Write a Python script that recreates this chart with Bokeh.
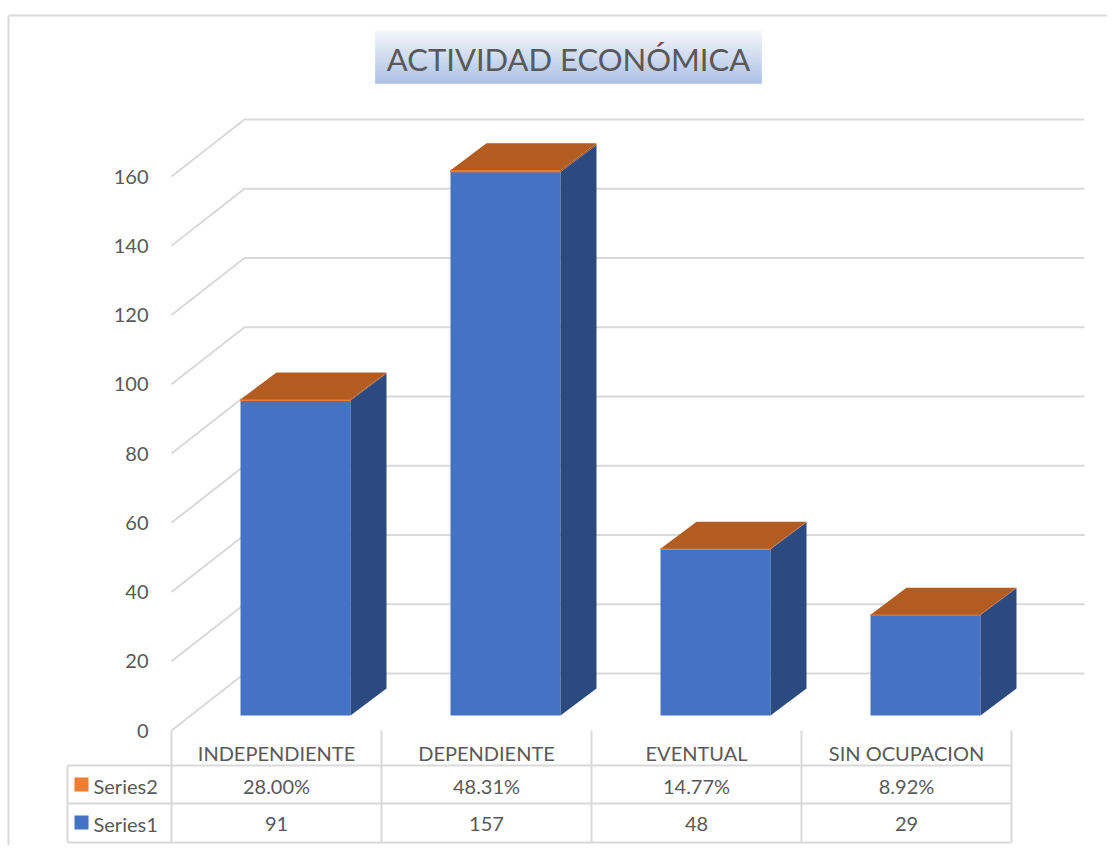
from bokeh.plotting import figure
from bokeh.models import Range1d
from bokeh.core.properties import value
from bokeh.embed import file_html
from bokeh.resources import INLINE

# ---------------- data ----------------
categories = ["INDEPENDIENTE", "DEPENDIENTE", "EVENTUAL", "SIN OCUPACION"]
series1 = [91, 157, 48, 29]
series2 = [0.2800, 0.4831, 0.1477, 0.0892]
series2_labels = ["28.00%", "48.31%", "14.77%", "8.92%"]
series_names = ["Series1", "Series2"]
y_ticks = [0, 20, 40, 60, 80, 100, 120, 140, 160]
title_text = "ACTIVIDAD ECONÓMICA"

# ---------------- geometry ----------------
W, H = 1107, 845
PX_X = 210.0      # px per category
PX_Y = 3.4625     # px per value unit
ORIGIN_X = 276.0  # canvas px of category 0 centre (front plane)
ORIGIN_Y = 730.0  # canvas px from top of value 0 (front plane)

x_start = -ORIGIN_X / PX_X
x_end = x_start + W / PX_X
y_end = ORIGIN_Y / PX_Y
y_start = y_end - H / PX_Y


def dx(px):
    return px / PX_X


def dy(px):
    return px / PX_Y


def sx(screen_x):
    return (screen_x - ORIGIN_X) / PX_X


def sy(screen_y):
    return (ORIGIN_Y - screen_y) / PX_Y


WALL_DX, WALL_DY = 73, 57
BAR_FRONT_DX, BAR_FRONT_DY = 19, 15
BAR_DEPTH_DX, BAR_DEPTH_DY = 36, 27
BAR_HALF = 55

TEXT_COLOR = "#595959"
GRID_COLOR = "#d9d9d9"
FONT = "Lato"
FRONT = "#4472c4"
SIDE = "#2b4a80"
TOP = "#b35c22"
ORANGE = "#ed7d31"
SIDE2 = "#9c4f1c"

p = figure(width=W, height=H, x_range=Range1d(x_start, x_end),
           y_range=Range1d(y_start, y_end), output_backend="svg",
           toolbar_location=None, min_border=0,
           x_axis_location=None, y_axis_location=None)
p.grid.visible = False
p.outline_line_color = None
p.background_fill_color = "white"
p.border_fill_color = "white"

n = len(categories)
left_edge = -0.5
right_edge = n - 0.5

# chart border (left + top)
p.line(x=[sx(8), sx(8)], y=[sy(15), y_start], line_color=GRID_COLOR, line_width=2)
p.line(x=[sx(8), x_end], y=[sy(15), sy(15)], line_color=GRID_COLOR, line_width=2)

# gridlines (floor diagonal + back wall)
gx, gy = [], []
for t in y_ticks:
    gx.append([left_edge, left_edge + dx(WALL_DX), right_edge + dx(WALL_DX)])
    gy.append([t, t + dy(WALL_DY), t + dy(WALL_DY)])
p.multi_line(xs=gx, ys=gy, line_color=GRID_COLOR, line_width=2)

# y axis labels
p.text(x=[left_edge] * len(y_ticks), y=y_ticks, text=[str(t) for t in y_ticks],
       x_offset=-23, text_align="right", text_baseline="middle",
       text_font=value(FONT), text_font_size="20px", text_color=TEXT_COLOR)

# bars
for i in range(n):
    cx = i + dx(BAR_FRONT_DX)
    x0 = cx - dx(BAR_HALF)
    x1 = cx + dx(BAR_HALF)
    y0 = dy(BAR_FRONT_DY)
    ddx = dx(BAR_DEPTH_DX)
    ddy = dy(BAR_DEPTH_DY)
    v1 = series1[i]
    v2 = series1[i] + series2[i]
    # series1 block
    p.quad(left=[x0], right=[x1], bottom=[y0], top=[y0 + v1],
           fill_color=FRONT, line_color=None)
    p.patch(x=[x1, x1 + ddx, x1 + ddx, x1], y=[y0, y0 + ddy, y0 + ddy + v1, y0 + v1],
            fill_color=SIDE, line_color=None)
    # series2 block (stacked)
    p.quad(left=[x0], right=[x1], bottom=[y0 + v1], top=[y0 + v2],
           fill_color=ORANGE, line_color=ORANGE, line_width=1)
    p.patch(x=[x1, x1 + ddx, x1 + ddx, x1], y=[y0 + v1, y0 + v1 + ddy, y0 + v2 + ddy, y0 + v2],
            fill_color=SIDE2, line_color=None)
    p.patch(x=[x0, x1, x1 + ddx, x0 + ddx],
            y=[y0 + v2, y0 + v2, y0 + v2 + ddy, y0 + v2 + ddy],
            fill_color=TOP, line_color=None)

# ---------------- data table ----------------
row_lines = [sy(765), sy(803), sy(842)]
table_left = sx(67)
vx, vy = [], []
for b in range(n + 1):
    vx.append([left_edge + b, left_edge + b])
    vy.append([0, row_lines[-1]])
vx.append([table_left, table_left])
vy.append([row_lines[0], row_lines[-1]])
for r in row_lines:
    vx.append([table_left, right_edge])
    vy.append([r, r])
p.multi_line(xs=vx, ys=vy, line_color=GRID_COLOR, line_width=2)

idx = list(range(n))
p.text(x=idx, y=[sy(752)] * n, text=categories, text_align="center",
       text_baseline="middle", text_font=value(FONT), text_font_size="20px",
       text_color=TEXT_COLOR)
p.text(x=idx, y=[sy(785)] * n, text=series2_labels, text_align="center",
       text_baseline="middle", text_font=value(FONT), text_font_size="20px",
       text_color=TEXT_COLOR)
p.text(x=idx, y=[sy(823)] * n, text=[str(v) for v in series1], text_align="center",
       text_baseline="middle", text_font=value(FONT), text_font_size="20px",
       text_color=TEXT_COLOR)

# legend keys in the table
p.quad(left=[sx(74), sx(74)], right=[sx(88), sx(88)],
       bottom=[sy(791), sy(829)], top=[sy(777), sy(815)],
       fill_color=[ORANGE, FRONT], line_color=None)
p.text(x=[sx(93), sx(93)], y=[sy(785), sy(823)], text=[series_names[1], series_names[0]],
       text_align="left", text_baseline="middle", text_font=value(FONT),
       text_font_size="20px", text_color=TEXT_COLOR)

# ---------------- title with gradient box ----------------
def hexmix(c1, c2, t):
    a = [int(c1[k:k + 2], 16) for k in (1, 3, 5)]
    b = [int(c2[k:k + 2], 16) for k in (1, 3, 5)]
    return "#%02x%02x%02x" % tuple(round(a[j] + (b[j] - a[j]) * t) for j in range(3))

top_s, bot_s = 30, 83
strips = bot_s - top_s
lefts, rights, tops, bottoms, cols = [], [], [], [], []
for k in range(strips):
    lefts.append(sx(375))
    rights.append(sx(761))
    tops.append(sy(top_s + k))
    bottoms.append(sy(top_s + k + 1))
    cols.append(hexmix("#f4f6fa", "#a7bde3", k / (strips - 1)))
p.quad(left=lefts, right=rights, top=tops, bottom=bottoms, fill_color=cols,
       line_color=cols, line_width=0.5)
p.text(x=[sx(568)], y=[sy(58)], text=[title_text], text_align="center",
       text_baseline="middle", text_font=value(FONT), text_font_size="31px",
       text_color=TEXT_COLOR)

open("out.html", "w").write(file_html(p, INLINE))
